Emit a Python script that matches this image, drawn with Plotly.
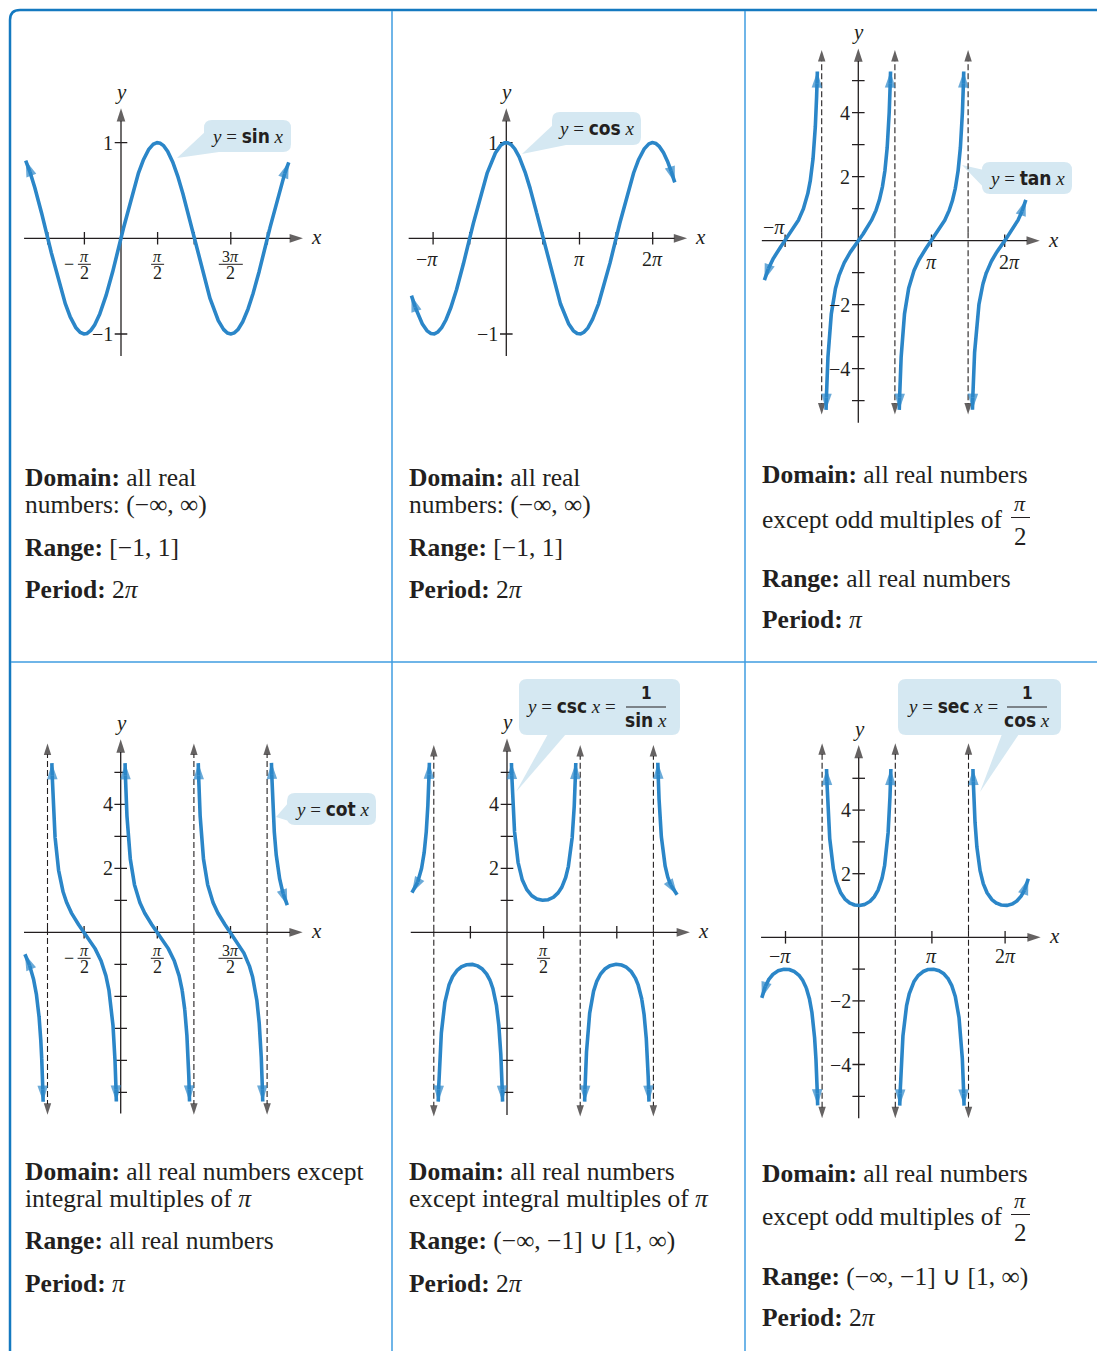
import numpy as np
import plotly.graph_objects as go

W, H = 1097, 1351
PI = np.pi

# ---------------- values ----------------
CLIP = 5.3  # unbounded branches stop at |y| = CLIP

SIN_SPAN = [-4.09, 7.2]
COS_SPAN = [-4.07, 7.23]
TAN_SPAN = [-4.03, 7.19]
COT_SPAN = [-4.11, 7.15]
CSC_SPAN = [-4.08, 7.3]
SEC_SPAN = [-4.16, 7.28]

TAN_ASYM = [-PI / 2, PI / 2, 3 * PI / 2]
COT_ASYM = [-PI, PI, 2 * PI]          # x = 0 is the y-axis itself
CSC_ASYM = [-PI, PI, 2 * PI]
SEC_ASYM = [-PI / 2, PI / 2, 3 * PI / 2]

HALF_PI_TICKS = [-PI, -PI / 2, PI / 2, PI, 3 * PI / 2, 2 * PI]
PI_TICKS = [-PI, PI, 2 * PI]
ODD_HALF_TICKS = [-PI / 2, PI / 2, 3 * PI / 2]
ONE_TICKS = [-1, 1]
FIVE_TICKS = [-5, -4, -3, -2, -1, 1, 2, 3, 4, 5]

# fraction tick labels: (x, numerator, leading minus)
SIN_FRAC = [(-PI / 2, "<i>π</i>", True), (PI / 2, "<i>π</i>", False), (3 * PI / 2, "3<i>π</i>", False)]
COT_FRAC = SIN_FRAC
CSC_FRAC = [(PI / 2, "<i>π</i>", False)]
# plain tick labels
COS_XLAB = [(-PI, "−<i>π</i>"), (PI, "<i>π</i>"), (2 * PI, "2<i>π</i>")]
TAN_XLAB = COS_XLAB
SEC_XLAB = COS_XLAB
ONE_YLAB = [(1, "1"), (-1, "−1")]
EVEN_YLAB = [(4, "4"), (2, "2"), (-2, "−2"), (-4, "−4")]
POS_YLAB = [(4, "4"), (2, "2")]

NAMES = ["sin", "cos", "tan", "cot", "csc", "sec"]

TEXTS = [
    ["<b>Domain:</b> all real", "numbers: (−∞, ∞)", "<b>Range:</b> [−1, 1]", "<b>Period:</b> 2<i>π</i>"],
    ["<b>Domain:</b> all real", "numbers: (−∞, ∞)", "<b>Range:</b> [−1, 1]", "<b>Period:</b> 2<i>π</i>"],
    ["<b>Domain:</b> all real numbers", "except odd multiples of", "<b>Range:</b> all real numbers",
     "<b>Period:</b> <i>π</i>"],
    ["<b>Domain:</b> all real numbers except", "integral multiples of <i>π</i>", "<b>Range:</b> all real numbers",
     "<b>Period:</b> <i>π</i>"],
    ["<b>Domain:</b> all real numbers", "except integral multiples of <i>π</i>",
     "<b>Range:</b> (−∞, −1] ∪ [1, ∞)", "<b>Period:</b> 2<i>π</i>"],
    ["<b>Domain:</b> all real numbers", "except odd multiples of", "<b>Range:</b> (−∞, −1] ∪ [1, ∞)",
     "<b>Period:</b> 2<i>π</i>"],
]

# ---------------- styles ----------------
SERIF = "Liberation Serif, Times New Roman, serif"
NARROW = "Liberation Sans Narrow, DejaVu Sans Condensed, Roboto, sans-serif"
INK = "#231f20"
BLUE = "#2b86c8"
BUBBLE = "#d5e8f2"
SX = 23.3
XWIN = (-4.8, 8.6)

panels = [
    dict(f=np.sin, span=SIN_SPAN, brk=[], asym=[], xt=HALF_PI_TICKS, yt=ONE_TICKS,
         frac=SIN_FRAC, xlab=[], ylab=ONE_YLAB,
         ox=121.0, oy=238.3, sy=95.7, xa=(-4.16, 7.81), ya=(-1.23, 1.36), win=(-1.7, 1.7)),
    dict(f=np.cos, span=COS_SPAN, brk=[], asym=[], xt=HALF_PI_TICKS, yt=ONE_TICKS,
         frac=[], xlab=COS_XLAB, ylab=ONE_YLAB, lab_dy=-21,
         ox=506.3, oy=238.3, sy=95.7, xa=(-4.19, 7.76), ya=(-1.23, 1.36), win=(-1.7, 1.7)),
    dict(f=np.tan, span=TAN_SPAN, brk=TAN_ASYM, asym=TAN_ASYM, xt=PI_TICKS, yt=FIVE_TICKS,
         frac=[], xlab=TAN_XLAB, ylab=EVEN_YLAB, lab_dy=-21, first_up=True,
         ox=858.3, oy=240.7, sy=32.0, xa=(-4.14, 7.79), ya=(-5.69, 6.01), asy=(-5.43, 5.96),
         win=(-6.4, 6.8)),
    dict(f=lambda x: 1 / np.tan(x), span=COT_SPAN, brk=COT_ASYM + [0.0], asym=COT_ASYM, xt=ODD_HALF_TICKS,
         yt=FIVE_TICKS, frac=COT_FRAC, xlab=[], ylab=POS_YLAB,
         ox=120.7, oy=932.3, sy=32.0, xa=(-4.15, 7.81), ya=(-5.66, 6.03), asy=(-5.7, 5.9),
         win=(-6.4, 6.8)),
    dict(f=lambda x: 1 / np.sin(x), span=CSC_SPAN, brk=CSC_ASYM + [0.0], asym=CSC_ASYM, xt=ODD_HALF_TICKS,
         yt=FIVE_TICKS, frac=CSC_FRAC, xlab=[], ylab=POS_YLAB,
         ox=507.0, oy=932.3, sy=32.0, xa=(-4.13, 7.85), ya=(-5.71, 6.06), asy=(-5.76, 5.85),
         win=(-6.4, 6.8)),
    dict(f=lambda x: 1 / np.cos(x), span=SEC_SPAN, brk=SEC_ASYM, asym=SEC_ASYM, xt=PI_TICKS, yt=FIVE_TICKS,
         frac=[], xlab=SEC_XLAB, ylab=EVEN_YLAB, lab_dy=-19,
         ox=858.7, oy=937.3, sy=31.8, xa=(-4.19, 7.81), ya=(-5.69, 6.05), asy=(-5.69, 6.1),
         win=(-6.4, 6.8)),
]

fig = go.Figure()


def arrow_seg(x, y, ref, color, width, size, dash=None):
    """Two-point segment ending in an arrowhead at its second point."""
    fig.add_trace(go.Scatter(
        x=x, y=y, xaxis=ref[0], yaxis=ref[1], mode="lines+markers",
        line=dict(color=color, width=width, dash=dash),
        marker=dict(symbol="arrow", size=[0, size], color=color, angleref="previous",
                    line=dict(width=0)),
        hoverinfo="skip", showlegend=False))


def add_curve(xs, ys, ref, sy, color, width, size, dash=None, start=True, back=12.0):
    """Curve with arrowheads: the last few pixels become straight arrow segments."""
    xs, ys = np.asarray(xs, float), np.asarray(ys, float)
    d_end = np.hypot((xs - xs[-1]) * SX, (ys - ys[-1]) * sy)
    i1 = int(np.nonzero(d_end >= back)[0][-1])
    i0 = 0
    if start:
        d_start = np.hypot((xs - xs[0]) * SX, (ys - ys[0]) * sy)
        i0 = int(np.nonzero(d_start >= back)[0][0])
    fig.add_trace(go.Scatter(x=xs[i0:i1 + 1], y=ys[i0:i1 + 1], xaxis=ref[0], yaxis=ref[1], mode="lines",
                             line=dict(color=color, width=width, dash=dash),
                             hoverinfo="skip", showlegend=False))
    arrow_seg([xs[i1], xs[-1]], [ys[i1], ys[-1]], ref, color, width, size, dash)
    if start:
        arrow_seg([xs[i0], xs[0]], [ys[i0], ys[0]], ref, color, width, size, dash)


def branches(f, span, brk):
    edges = [span[0]] + sorted(b for b in brk if span[0] < b < span[1]) + [span[1]]
    out = []
    for a, b in zip(edges[:-1], edges[1:]):
        xs = np.linspace(a, b, 4000)
        with np.errstate(all="ignore"):
            ys = f(xs)
        keep = np.isfinite(ys) & (np.abs(ys) <= CLIP)
        out.append((xs[keep], ys[keep]))
    return out


def note(text, x, y, xref, yref, size, xanchor="center", xshift=0, yshift=0, family=SERIF):
    fig.add_annotation(text=text, x=x, y=y, xref=xref, yref=yref, showarrow=False,
                       font=dict(family=family, size=size, color=INK),
                       xanchor=xanchor, yanchor="middle", xshift=xshift, yshift=yshift)


def pp(x, y):
    return f"{x / W:.5f},{1 - y / H:.5f}"


for i, p in enumerate(panels):
    n = "" if i == 0 else str(i + 1)
    xr, yr = "x" + n, "y" + n
    ox, oy, sy = p["ox"], p["oy"], p["sy"]
    x0 = ox + XWIN[0] * SX
    x1 = ox + XWIN[1] * SX
    top = oy - p["win"][1] * sy
    bot = oy - p["win"][0] * sy
    fig.layout["xaxis" + n] = dict(domain=[x0 / W, x1 / W], range=list(XWIN), visible=False,
                                   anchor=yr)
    fig.layout["yaxis" + n] = dict(domain=[1 - bot / H, 1 - top / H], range=list(p["win"]),
                                   visible=False, anchor=xr)
    ref = (xr, yr)

    # axes
    add_curve(p["xa"], [0, 0], ref, sy, INK, 1.3, 14, start=False, back=20)
    add_curve([0, 0], p["ya"], ref, sy, INK, 1.3, 14, start=False, back=20)
    fig.add_trace(go.Scatter(x=p["xt"], y=[0] * len(p["xt"]), xaxis=xr, yaxis=yr, mode="markers",
                             marker=dict(symbol="line-ns", size=9, line=dict(color=INK, width=1.3)),
                             hoverinfo="skip", showlegend=False))
    fig.add_trace(go.Scatter(x=[0] * len(p["yt"]), y=p["yt"], xaxis=xr, yaxis=yr, mode="markers",
                             marker=dict(symbol="line-ew", size=9, line=dict(color=INK, width=1.3)),
                             hoverinfo="skip", showlegend=False))

    # asymptotes
    for a in p["asym"]:
        lo, hi = p["asy"]
        add_curve([a, a, a], [lo, (lo + hi) / 2, hi], ref, sy, INK, 1.1, 12, dash="6px,3px", back=20)

    # curve branches
    for bx, by in branches(p["f"], p["span"], p["brk"]):
        add_curve(bx, by, ref, sy, BLUE, 3.6, 17)

    # axis names
    note("<i>y</i>", 0, p["ya"][1], xr, yr, 21, yshift=16)
    note("<i>x</i>", p["xa"][1], 0, xr, yr, 21, xanchor="left", xshift=6, yshift=1)

    # tick labels
    for t, num, neg in p["frac"]:
        w = 24 if num.startswith("3") else 13
        note(num, t, 0, xr, yr, 16, yshift=-18)
        note("2", t, 0, xr, yr, 18, yshift=-35)
        fig.add_shape(type="line", xref=xr, yref=yr, xsizemode="pixel", ysizemode="pixel",
                      xanchor=t, yanchor=0, x0=-w / 2, x1=w / 2, y0=-26, y1=-26,
                      line=dict(color=INK, width=1))
        if neg:
            note("−", t, 0, xr, yr, 18, xshift=-15, yshift=-26)
    for k, (t, txt) in enumerate(p["xlab"]):
        if p.get("first_up") and k == 0:
            note(txt, t, 0, xr, yr, 20, xshift=-11, yshift=14)
        else:
            dx = -6 if txt.startswith("−") else (5 if i == 2 and txt.startswith("2") else 0)
            note(txt, t, 0, xr, yr, 20, xshift=dx, yshift=p["lab_dy"])
    for v, txt in p["ylab"]:
        note(txt, 0, v, xr, yr, 20, xanchor="right", xshift=-6)

# ---------------- call-out bubbles ----------------
def rounded(x0, y0, x1, y1, r=8):
    return (f"M{pp(x0 + r, y0)} L{pp(x1 - r, y0)} Q{pp(x1, y0)} {pp(x1, y0 + r)} "
            f"L{pp(x1, y1 - r)} Q{pp(x1, y1)} {pp(x1 - r, y1)} L{pp(x0 + r, y1)} "
            f"Q{pp(x0, y1)} {pp(x0, y1 - r)} L{pp(x0, y0 + r)} Q{pp(x0, y0)} {pp(x0 + r, y0)} Z")


bubbles = [
    ((204, 120, 291, 152), [(206, 131), (219, 152), (177, 158)]),
    ((552, 112, 641, 145), [(554, 124), (566, 145), (522, 154)]),
    ((982, 162, 1072, 194), [(984, 170), (990, 194), (962, 165)]),
    ((287, 793, 376, 825), [(289, 802), (292, 822), (276, 817)]),
    ((519, 679, 680, 735), [(548, 734), (566, 734), (516, 792)]),
    ((898, 679, 1061, 735), [(1002, 734), (1019, 734), (980, 792)]),
]
for (bx0, by0, bx1, by1), tri in bubbles:
    fig.add_shape(type="path", xref="paper", yref="paper", path=rounded(bx0, by0, bx1, by1),
                  fillcolor=BUBBLE, line=dict(width=0), layer="below")
    tpath = "M" + " L".join(pp(x, y) for x, y in tri) + " Z"
    fig.add_shape(type="path", xref="paper", yref="paper", path=tpath,
                  fillcolor=BUBBLE, line=dict(width=0), layer="below")


def fn(name):
    return f'<b><span style="font-family:{NARROW}">{name}</span></b>'


for name, (cx, cy) in zip(NAMES[:4], [(247, 136), (596, 128), (1027, 178), (332, 809)]):
    note(f"<i>y</i> = {fn(name)} <i>x</i>", cx / W, 1 - cy / H, "paper", "paper", 19)

for name, den, lx, fx in [("csc", "sin", 524, 646), ("sec", "cos", 905, 1027)]:
    note(f"<i>y</i> = {fn(name)} <i>x</i> =", lx / W, 1 - 706 / H, "paper", "paper", 19, xanchor="left")
    note(fn("1"), fx / W, 1 - 693 / H, "paper", "paper", 17)
    note(f"{fn(den)} <i>x</i>", fx / W, 1 - 720 / H, "paper", "paper", 19)
    fig.add_shape(type="line", xref="paper", yref="paper", x0=(fx - 20) / W, x1=(fx + 20) / W,
                  y0=1 - 707 / H, y1=1 - 707 / H, line=dict(color=INK, width=1))

# ---------------- description texts ----------------
text_rows = [
    (25, [477, 504, 547, 589]), (409, [477, 504, 547, 589]), (762, [475, 519, 578, 620]),
    (25, [1171, 1198, 1240, 1283]), (409, [1171, 1198, 1240, 1283]), (762, [1173, 1216, 1276, 1317]),
]
for lines, (lx, ys) in zip(TEXTS, text_rows):
    for txt, ty in zip(lines, ys):
        note(txt, lx / W, 1 - ty / H, "paper", "paper", 25.5, xanchor="left", xshift=-2)

for ny, by, dy in [(503, 517.5, 536.5), (1200, 1214.5, 1232.5)]:
    note("<i>π</i>", 1020 / W, 1 - ny / H, "paper", "paper", 22)
    note("2", 1020 / W, 1 - dy / H, "paper", "paper", 25)
    fig.add_shape(type="line", xref="paper", yref="paper", x0=1011 / W, x1=1030 / W,
                  y0=1 - by / H, y1=1 - by / H, line=dict(color=INK, width=1))

# ---------------- frame ----------------
OUTER = "#1479c0"
INNER = "#3f9de0"
fig.add_shape(type="path", xref="paper", yref="paper",
              path=f"M{pp(10, 1351)} L{pp(10, 20)} Q{pp(10, 10)} {pp(20, 10)} L{pp(1097, 10)}",
              line=dict(color=OUTER, width=2.5))
for x in (392, 745):
    fig.add_shape(type="line", xref="paper", yref="paper", x0=x / W, x1=x / W,
                  y0=1 - 11 / H, y1=0, line=dict(color=INNER, width=1.5))
fig.add_shape(type="line", xref="paper", yref="paper", x0=11 / W, x1=1,
              y0=1 - 662 / H, y1=1 - 662 / H, line=dict(color=INNER, width=1.5))

fig.update_layout(width=W, height=H, margin=dict(l=0, r=0, t=0, b=0),
                  paper_bgcolor="white", plot_bgcolor="rgba(0,0,0,0)", showlegend=False)

fig.write_html("out.html", config={"displayModeBar": False},
               post_script="document.body.style.margin='0px';")
